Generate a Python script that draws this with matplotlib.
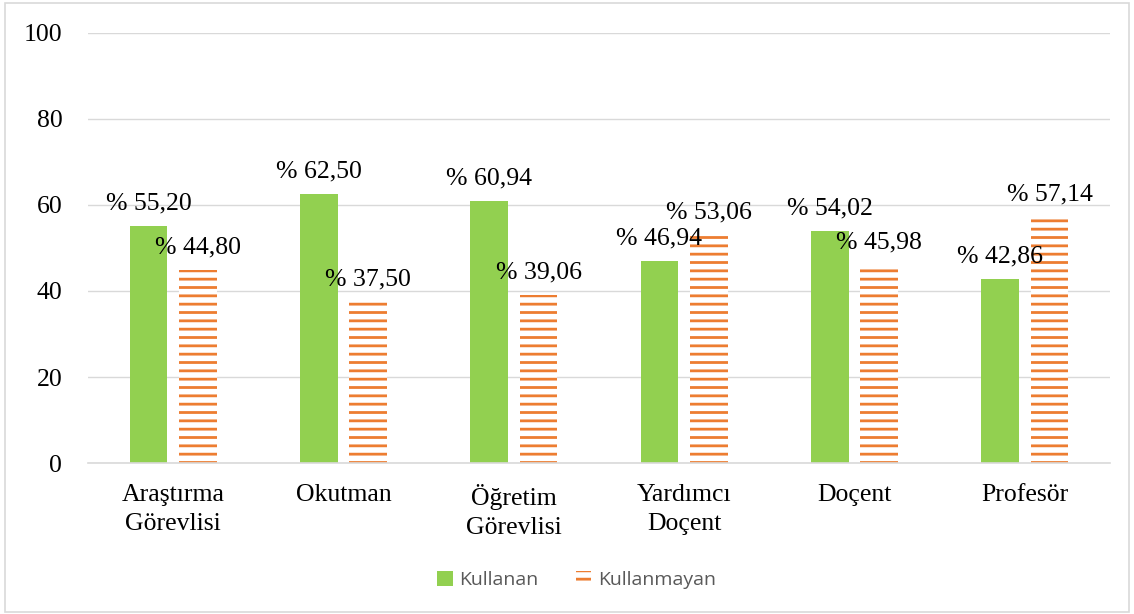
import matplotlib.pyplot as plt
import matplotlib.patches as mpatches
import numpy as np

categories = ['Araştırma\nGörevlisi', 'Okutman', 'Öğretim\nGörevlisi',
              'Yardımcı\nDoçent', 'Doçent', 'Profesör']
kullanan = [55.20, 62.50, 60.94, 46.94, 54.02, 42.86]
kullanmayan = [44.80, 37.50, 39.06, 53.06, 45.98, 57.14]
series_names = ['Kullanan', 'Kullanmayan']
yticks = [0, 20, 40, 60, 80, 100]

GREEN = '#92D050'
ORANGE = '#ED7D31'

plt.rcParams['hatch.linewidth'] = 2.0

fig = plt.figure(figsize=(11.34, 6.14), dpi=100)
ax = fig.add_axes([0.0776, 0.2459, 0.9012, 0.7004])

x = np.arange(len(categories))
w = 0.22
off = 0.145

b1 = ax.bar(x - off, kullanan, w, color=GREEN, linewidth=0, zorder=3)
b2 = ax.bar(x + off, kullanmayan, w, facecolor='white', edgecolor=ORANGE,
            hatch='--', linewidth=0, zorder=3)

def fmt(v):
    return '% ' + f'{v:.2f}'.replace('.', ',')

for bars, vals in ((b1, kullanan), (b2, kullanmayan)):
    for rect, v in zip(bars, vals):
        ax.annotate(fmt(v), (rect.get_x() + rect.get_width() / 2, v),
                    xytext=(0, 12), textcoords='offset points',
                    ha='center', va='baseline', fontsize=18.5,
                    family='Liberation Serif', color='black', zorder=5)

ax.set_xlim(-0.5, len(categories) - 0.5)
ax.set_ylim(0, 100)
ax.set_yticks(yticks)
ax.set_yticklabels([str(t) for t in yticks], family='Liberation Serif', fontsize=18.5)
ax.set_xticks(x)
ax.set_xticklabels(categories, family='Liberation Serif', fontsize=18.5,
                   linespacing=1.4)
ax.tick_params(axis='both', length=0)
ax.tick_params(axis='y', pad=18.5)
ax.tick_params(axis='x', pad=15)

ax.grid(axis='y', color='#D9D9D9', linewidth=1, zorder=0)
for s in ['top', 'right', 'left']:
    ax.spines[s].set_visible(False)
ax.spines['bottom'].set_color('#D9D9D9')
ax.spines['bottom'].set_linewidth(1.2)
ax.spines['bottom'].set_zorder(4)

h1 = mpatches.Patch(facecolor=GREEN, linewidth=0)
h2 = mpatches.Patch(facecolor='white', edgecolor=ORANGE, hatch='--', linewidth=0)
fig.legend([h1, h2], series_names, loc='center', bbox_to_anchor=(0.5085, 0.055),
           ncol=2, frameon=False, handlelength=0.8, handleheight=0.8,
           handletextpad=0.35, columnspacing=1.9,
           prop={'family': 'Open Sans', 'size': 14}, labelcolor='#595959')

border = mpatches.Rectangle((0.004, 0.004), 0.992, 0.991, transform=fig.transFigure,
                            fill=False, edgecolor='#D9D9D9', linewidth=1.2)
fig.patches.append(border)

fig.savefig('out.png', dpi=100)
